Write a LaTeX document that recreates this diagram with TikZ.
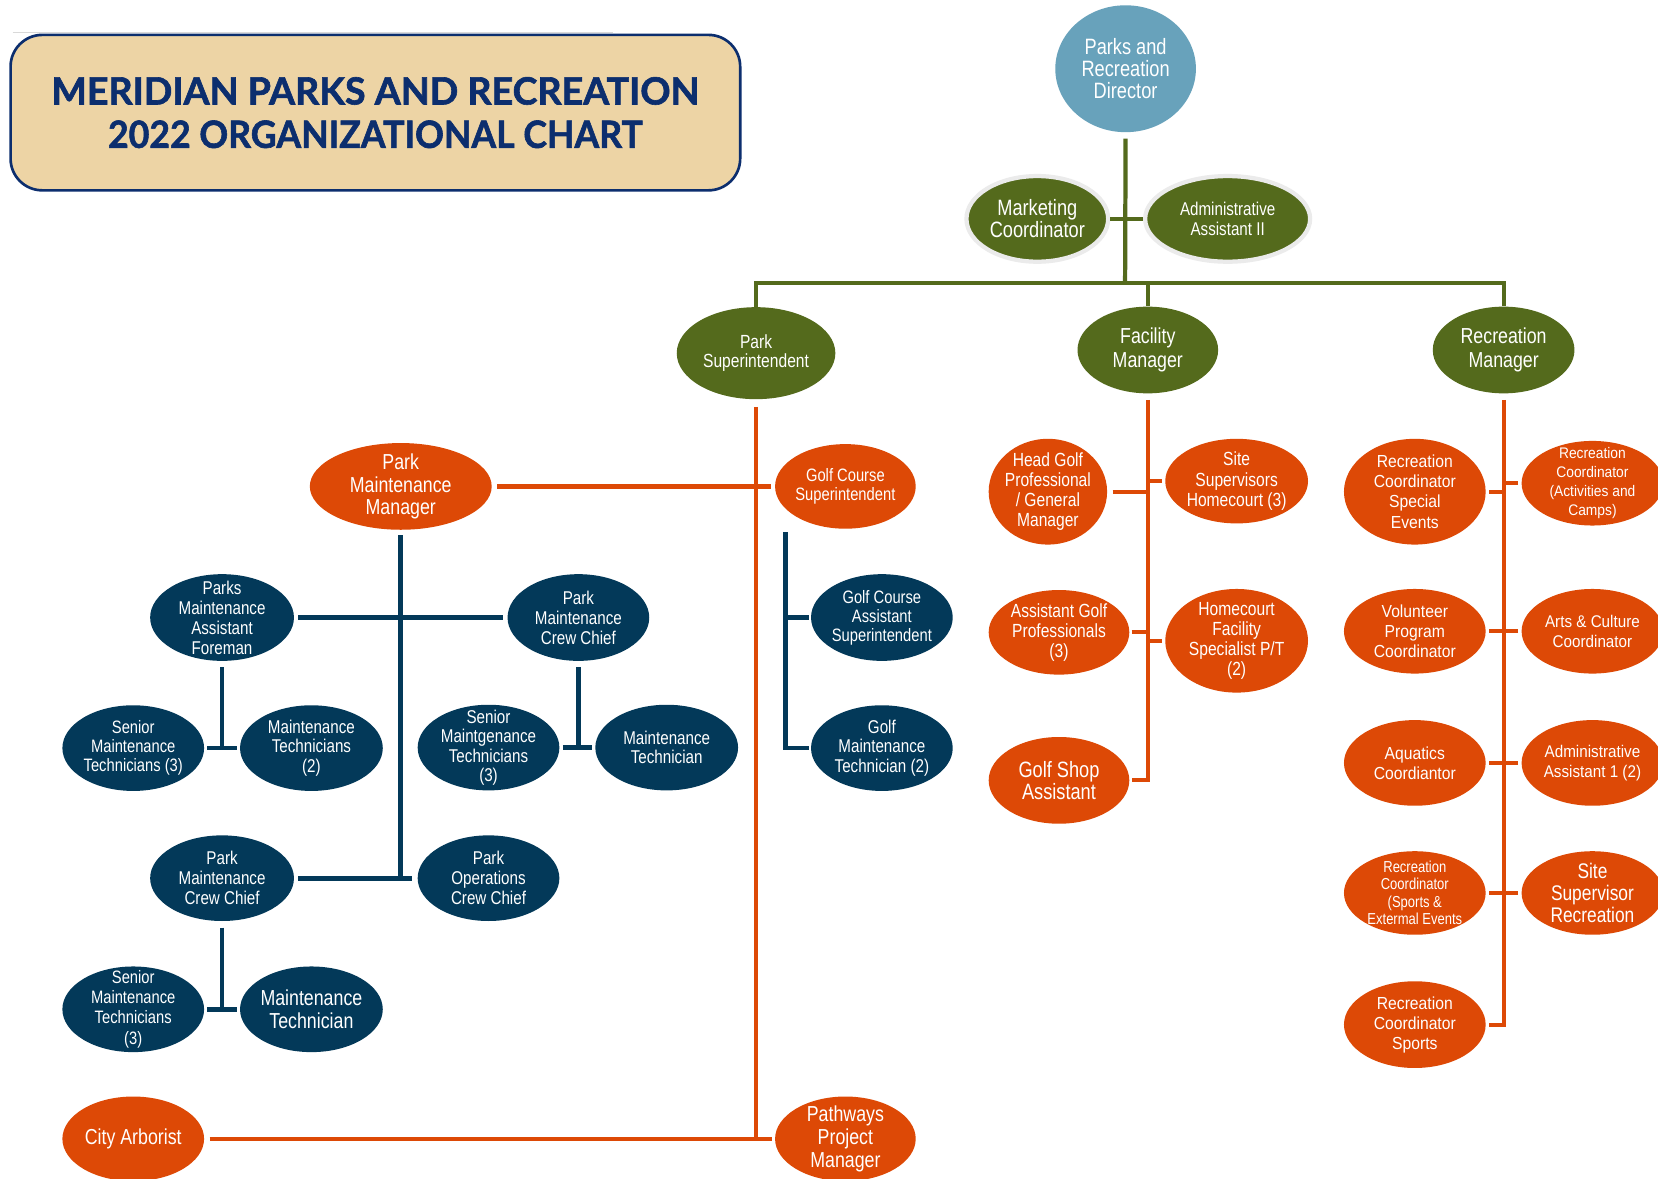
\documentclass[tikz,border=0pt]{standalone}
\usepackage{fontspec}
\usetikzlibrary{shapes.geometric}
\setmainfont{Liberation Sans}
\newfontfamily\narrowfnt{Liberation Sans}[FakeStretch=0.82]
\newfontfamily\midfnt{Liberation Sans}[FakeStretch=0.9]
\newfontfamily\titlefnt{Lato}[BoldFeatures={FakeBold=1.6}]
\newcommand{\nfs}[2]{\narrowfnt\fontsize{#1}{#2}\selectfont}
\newcommand{\mfs}[2]{\midfnt\fontsize{#1}{#2}\selectfont}
\definecolor{cgreen}{RGB}{84,106,28}
\definecolor{corange}{RGB}{221,73,6}
\definecolor{cblue}{RGB}{3,57,89}
\definecolor{cdir}{RGB}{104,162,187}
\definecolor{ctan}{RGB}{237,212,165}
\definecolor{cnavy}{RGB}{12,46,110}
\newcommand{\ellnode}[7]{%
  \node[#5, minimum width=#3, minimum height=#4] (#1) at (#2) {};
  \node[lab, font={#6}] at (#1) {#7};
}
\tikzset{
  ell/.style={ellipse, inner sep=0pt, draw=none},
  gE/.style={ell, fill=cgreen},
  gEring/.style={ell, fill=cgreen, draw=black!8, line width=4pt},
  oE/.style={ell, fill=corange},
  bE/.style={ell, fill=cblue},
  dE/.style={ell, fill=cdir},
  lab/.style={text=white, align=center, inner sep=0pt},
  gl/.style={draw=cgreen, line width=4pt},
  ol/.style={draw=corange, line width=4pt},
  bl/.style={draw=cblue, line width=4.5pt},
}
\begin{document}
\begin{tikzpicture}[x=1pt,y=-1pt]
\useasboundingbox (0,0) rectangle (1568,1115);
\fill[white] (0,0) rectangle (1568,1115);

% title
\draw[black!15, line width=1pt] (12,31) -- (580,31);
\node[draw=cnavy, line width=2.5pt, fill=ctan, rounded corners=30pt,
      minimum width=690, minimum height=147, text=cnavy, align=center,
      font={\titlefnt\bfseries\fontsize{35.5}{41}\selectfont}] (title) at (355,106.5)
      {MERIDIAN PARKS AND RECREATION\\\scalebox{0.95}[1]{2022 ORGANIZATIONAL CHART}};

% top level
\ellnode{dir}{1064.5,65}{133}{120}{dE}{\nfs{21}{21}}{Parks and\\Recreation\\Director}
\ellnode{mkt}{981,207}{134}{81}{gEring}{\nfs{21}{21}}{Marketing\\Coordinator}
\ellnode{adm}{1161,207}{156}{81}{gEring}{\nfs{17.5}{18}}{Administrative\\Assistant II}
\ellnode{psup}{715,334}{150}{87}{gE}{\nfs{18}{18}}{Park\\Superintendent}
\ellnode{fmgr}{1085.5,331}{133}{82}{gE}{\nfs{20.5}{22}}{Facility\\Manager}
\ellnode{rmgr}{1422,331}{134}{82}{gE}{\nfs{20.5}{22}}{Recreation\\Manager}

% park branch
\ellnode{pmm}{379,460}{172}{82}{oE}{\nfs{20.5}{21}}{Park\\Maintenance\\Manager}
\ellnode{gcs}{799.5,460}{133}{80}{oE}{\nfs{17}{18}}{Golf Course\\Superintendent}
\ellnode{pmaf}{210,584}{136}{82}{bE}{\nfs{17.5}{19}}{Parks\\Maintenance\\Assistant\\Foreman}
\ellnode{pmcc}{547,584}{134}{82}{bE}{\nfs{17.5}{19}}{Park\\Maintenance\\Crew Chief}
\ellnode{smta}{126,707.5}{134}{81}{bE}{\nfs{17}{18}}{Senior\\Maintenance\\Technicians (3)}
\ellnode{mtb}{294.5,707.5}{135}{81}{bE}{\nfs{17.5}{18.5}}{Maintenance\\Technicians\\(2)}
\ellnode{smtc}{462,707}{134}{81}{bE}{\nfs{17.5}{18.5}}{Senior\\Maintgenance\\Technicians\\(3)}
\ellnode{mtd}{630.5,707}{135}{81}{bE}{\nfs{17.5}{18.5}}{Maintenance\\Technician}
\ellnode{pmcc2}{210,830.5}{136}{81}{bE}{\nfs{17.5}{19}}{Park\\Maintenance\\Crew Chief}
\ellnode{pocc}{462,830.5}{134}{81}{bE}{\nfs{17.5}{19}}{Park\\Operations\\Crew Chief}
\ellnode{smte}{126,954.5}{134}{81}{bE}{\nfs{17}{19}}{Senior\\Maintenance\\Technicians\\(3)}
\ellnode{mtf}{294.5,954.5}{135}{81}{bE}{\nfs{20.5}{22}}{Maintenance\\Technician}
\ellnode{arb}{126,1077}{134}{80}{oE}{\nfs{20.5}{22}}{City Arborist}
\ellnode{ppm}{799.5,1077}{133}{80}{oE}{\nfs{20.5}{22}}{Pathways\\Project\\Manager}
\ellnode{gcas}{834,584}{134}{82}{bE}{\nfs{17}{18}}{Golf Course\\Assistant\\Superintendent}
\ellnode{gmt}{834,707.5}{134}{81}{bE}{\nfs{17.5}{18.5}}{Golf\\Maintenance\\Technician (2)}

% facility branch
\ellnode{hgp}{991,465}{112}{100}{oE}{\nfs{18}{19}}{Head Golf\\Professional\\/ General\\Manager}
\ellnode{ssh}{1169.5,455}{135}{80}{oE}{\nfs{18}{19}}{Site\\Supervisors\\Homecourt (3)}
\ellnode{agp}{1001.5,598}{133}{80}{oE}{\nfs{18}{19}}{Assistant Golf\\Professionals\\(3)}
\ellnode{hfs}{1169.5,606}{135}{98}{oE}{\nfs{18}{19}}{Homecourt\\Facility\\Specialist P/T\\(2)}
\ellnode{gsa}{1001.5,738}{133}{82}{oE}{\nfs{21}{21}}{Golf Shop\\Assistant}

% recreation branch
\ellnode{rcse}{1338,465}{134}{100}{oE}{\mfs{16.5}{19}}{Recreation\\Coordinator\\Special\\Events}
\ellnode{rcac}{1506,457}{134}{80}{oE}{\mfs{14.5}{18}}{Recreation\\Coordinator\\(Activities and\\Camps)}
\ellnode{vpc}{1338,597}{134}{80}{oE}{\mfs{16.5}{19}}{Volunteer\\Program\\Coordinator}
\ellnode{acc}{1506,597}{134}{80}{oE}{\mfs{16}{19}}{Arts \& Culture\\Coordinator}
\ellnode{aqc}{1338,721.5}{134}{81}{oE}{\mfs{16.5}{19}}{Aquatics\\Coordiantor}
\ellnode{aaa}{1506,721.5}{134}{81}{oE}{\mfs{16}{19}}{Administrative\\Assistant 1 (2)}
\ellnode{rcsx}{1338,844.5}{134}{79}{oE}{\nfs{15}{16.5}}{Recreation\\Coordinator\\(Sports \&\\Extermal Events}
\ellnode{ssr}{1506,844.5}{134}{79}{oE}{\nfs{20}{21}}{Site\\Supervisor\\Recreation}
\ellnode{rcs}{1338,969}{134}{82}{oE}{\mfs{16.5}{19}}{Recreation\\Coordinator\\Sports}

% green connectors
\coordinate (gj) at (1064,268);
\draw[gl, shorten <=6pt] (dir.south) -- (gj);
\draw[gl] (mkt.east) -- (adm.west);
\draw[gl] (psup.north) -- (psup.north |- gj) -- (rmgr.north |- gj) -- (rmgr.north);
\draw[gl] (fmgr.north |- gj) -- (fmgr.north);

% orange park superintendent connectors
\draw[ol, shorten <=7pt] (psup.south) -- (psup.south |- ppm.west);
\draw[ol, shorten <=5pt, shorten >=4pt] (pmm.east) -- (gcs.west);
\draw[ol, shorten <=5pt, shorten >=3pt] (arb.east) -- (ppm.west);

% blue park maintenance connectors
\draw[bl, shorten <=5pt] (pmm.south) -- (pmm.south |- pocc.west);
\draw[bl, shorten <=4pt, shorten >=4pt] (pmaf.east) -- (pmcc.west);
\draw[bl, shorten <=4pt, shorten >=5pt] (pmcc2.east) -- (pocc.west);
\draw[bl, shorten <=6pt] (pmaf.south) -- (pmaf.south |- smta.east);
\draw[bl, shorten <=3pt, shorten >=3pt] (smta.east) -- (mtb.west);
\draw[bl, shorten <=6pt] (pmcc.south) -- (pmcc.south |- smtc.east);
\draw[bl, shorten <=3pt, shorten >=3pt] (smtc.east) -- (mtd.west);
\draw[bl, shorten <=6pt] (pmcc2.south) -- (pmcc2.south |- smte.east);
\draw[bl, shorten <=3pt, shorten >=3pt] (smte.east) -- (mtf.west);

% golf course connectors
\draw[bl, shorten <=3pt, shorten >=2pt] ([xshift=-56.5pt]gcs.south) |- (gmt.west);
\draw[bl, shorten >=2pt] ([xshift=-56.5pt]gcs.south |- gcas.west) -- (gcas.west);

% facility connectors
\draw[ol, shorten <=6pt, shorten >=2pt] (fmgr.south) |- (gsa.east);
\draw[ol, shorten <=5pt] (hgp.east) -- (hgp.east -| fmgr.south);
\draw[ol, shorten <=3pt] (ssh.west) -- (ssh.west -| fmgr.south);
\draw[ol, shorten <=2pt] (agp.east) -- (agp.east -| fmgr.south);
\draw[ol, shorten <=3pt] (hfs.west) -- (hfs.west -| fmgr.south);

% recreation connectors
\draw[ol, shorten <=6pt, shorten >=3pt] (rmgr.south) |- (rcs.east);
\draw[ol, shorten <=3pt] (rcse.east) -- (rcse.east -| rmgr.south);
\draw[ol, shorten <=3pt] (rcac.west) -- (rcac.west -| rmgr.south);
\draw[ol, shorten <=3pt] (vpc.east) -- (vpc.east -| rmgr.south);
\draw[ol, shorten <=3pt] (acc.west) -- (acc.west -| rmgr.south);
\draw[ol, shorten <=3pt] (aqc.east) -- (aqc.east -| rmgr.south);
\draw[ol, shorten <=3pt] (aaa.west) -- (aaa.west -| rmgr.south);
\draw[ol, shorten <=3pt] (rcsx.east) -- (rcsx.east -| rmgr.south);
\draw[ol, shorten <=3pt] (ssr.west) -- (ssr.west -| rmgr.south);
\end{tikzpicture}
\end{document}
